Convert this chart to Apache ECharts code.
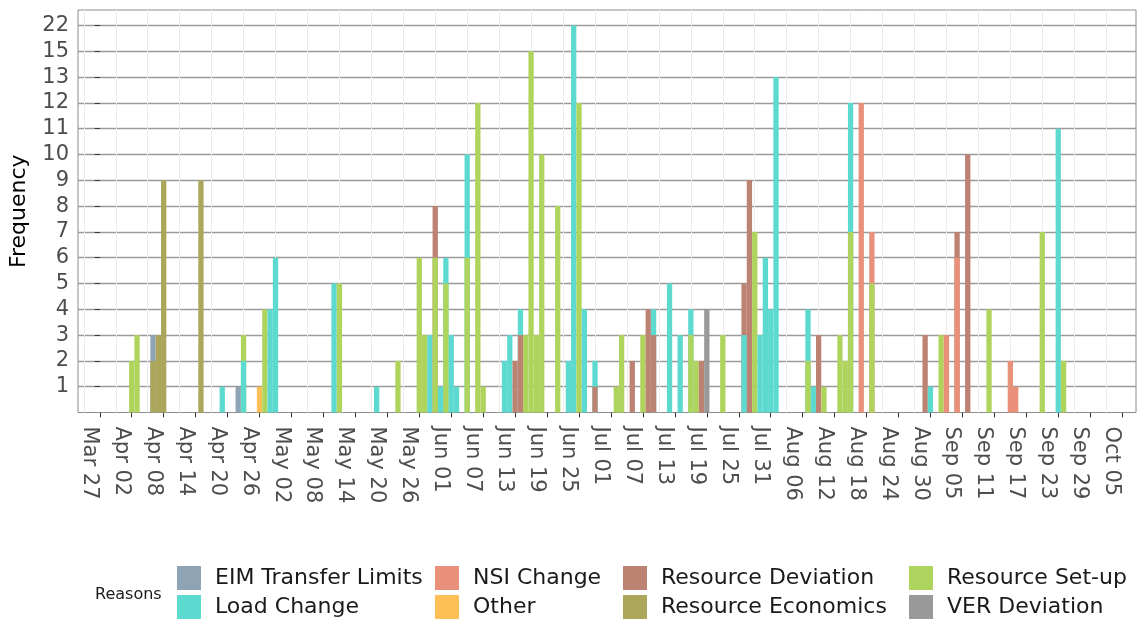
<!DOCTYPE html>
<html>
<head>
<meta charset="utf-8">
<script src="https://cdn.jsdelivr.net/npm/echarts@6/dist/echarts.min.js"></script>
<style>
  html, body { margin: 0; padding: 0; background: #ffffff; }
  #chart { width: 1141px; height: 620px; }
</style>
</head>
<body>
<div id="chart"></div>
<script>
// Calendar window shown on the date axis (month-day, one season)
const seasonYear = 2021;
const axisStart = '03-27';
const axisEnd = '10-05';
const dayStep = 6;

// Frequency levels on the discrete y scale
const yTickLabels = ['1', '2', '3', '4', '5', '6', '7', '8', '9', '10', '11', '12', '13', '15', '22'];

const reasons = ['EIM Transfer Limits', 'Load Change', 'NSI Change', 'Other',
  'Resource Deviation', 'Resource Economics', 'Resource Set-up', 'VER Deviation'];
const reasonColors = ['#8ea3b4', '#5ddad0', '#e8907a', '#fdbf56',
  '#bc8272', '#aba65a', '#afd45d', '#999999'];

// Daily counts per reason: [month-day, frequency]
const eimTransferLimits = [['04-06', 3], ['04-22', 1]];
const loadChange = [
  ['04-19', 1], ['04-23', 2], ['04-28', 4], ['04-29', 6], ['05-10', 5], ['05-18', 1],
  ['05-28', 3], ['05-30', 1], ['05-31', 6], ['06-01', 3], ['06-02', 1], ['06-04', 10],
  ['06-11', 2], ['06-12', 3], ['06-14', 4], ['06-23', 2], ['06-24', 22], ['06-26', 4],
  ['06-28', 2], ['07-09', 4], ['07-12', 5], ['07-14', 3], ['07-16', 4], ['07-26', 3],
  ['07-29', 3], ['07-30', 6], ['07-31', 4], ['08-01', 13], ['08-07', 4], ['08-08', 1],
  ['08-15', 12], ['08-30', 1], ['09-23', 11]
];
const nsiChange = [['08-17', 12], ['08-19', 7], ['09-02', 3], ['09-04', 6], ['09-14', 2], ['09-15', 1]];
const other = [['04-26', 1]];
const resourceDeviation = [
  ['05-29', 8], ['06-13', 2], ['06-14', 3], ['06-28', 1], ['07-05', 2], ['07-08', 4],
  ['07-09', 3], ['07-18', 2], ['07-26', 5], ['07-27', 9], ['08-09', 3], ['08-29', 3],
  ['09-04', 7], ['09-06', 10]
];
const resourceEconomics = [['04-06', 2], ['04-07', 3], ['04-08', 9], ['04-15', 9]];
const resourceSetup = [
  ['04-02', 2], ['04-03', 3], ['04-23', 3], ['04-27', 4], ['05-11', 5], ['05-22', 2],
  ['05-26', 6], ['05-27', 3], ['05-29', 6], ['05-31', 5], ['06-04', 6], ['06-06', 12],
  ['06-07', 1], ['06-15', 3], ['06-16', 15], ['06-17', 3], ['06-18', 10], ['06-21', 8],
  ['06-25', 12], ['07-02', 1], ['07-03', 3], ['07-07', 3], ['07-16', 3], ['07-17', 2],
  ['07-22', 3], ['07-28', 7], ['08-07', 2], ['08-10', 1], ['08-13', 3], ['08-14', 2],
  ['08-15', 7], ['08-19', 5], ['09-01', 3], ['09-10', 4], ['09-20', 7], ['09-24', 2]
];
const verDeviation = [['07-19', 4]];

const reasonData = [eimTransferLimits, loadChange, nsiChange, other,
  resourceDeviation, resourceEconomics, resourceSetup, verDeviation];

const MS_DAY = 86400000;
function toUTC(md) {
  const [m, d] = md.split('-').map(Number);
  return Date.UTC(seasonYear, m - 1, d);
}
const origin = toUTC(axisStart);
function dayIndex(md) { return Math.round((toUTC(md) - origin) / MS_DAY); }
const monthNames = ['Jan', 'Feb', 'Mar', 'Apr', 'May', 'Jun', 'Jul', 'Aug', 'Sep', 'Oct', 'Nov', 'Dec'];
function dayLabel(idx) {
  const dt = new Date(origin + idx * MS_DAY);
  const dd = dt.getUTCDate();
  return monthNames[dt.getUTCMonth()] + ' ' + (dd < 10 ? '0' + dd : dd);
}
// position of a frequency on the discrete scale
function levelOf(freq) { return yTickLabels.indexOf(String(freq)) + 1; }

const lastDay = dayIndex(axisEnd);
const majorDays = [];
for (let d = 0; d <= lastDay; d += dayStep) majorDays.push(d);
const minorDays = [];
for (let d = dayStep / 2 - dayStep; d <= lastDay + dayStep; d += dayStep) minorDays.push(d);
const yLevels = yTickLabels.map((_, i) => i + 1);

// Bars of one day overlap; the tallest sits behind, shorter ones in front.
const byDay = {};
reasonData.forEach((rows, r) => {
  rows.forEach(([md, f]) => {
    const d = dayIndex(md);
    (byDay[d] = byDay[d] || []).push({ r, f });
  });
});
const layers = [];
Object.keys(byDay).forEach(k => {
  const list = byDay[k].sort((a, b) => b.f - a.f);
  list.forEach((item, i) => {
    (layers[i] = layers[i] || []).push({
      value: [Number(k), levelOf(item.f)],
      itemStyle: { color: reasonColors[item.r] }
    });
  });
});

const barW = 5.3;
const series = layers.map((data, i) => ({
  name: 'layer' + i,
  type: 'bar',
  xAxisIndex: 0,
  barWidth: barW,
  barGap: '-100%',
  data: data
}));
reasons.forEach((name, r) => {
  series.push({
    name: name, type: 'bar', xAxisIndex: 0, barWidth: barW, barGap: '-100%',
    itemStyle: { color: reasonColors[r] }, data: []
  });
});

const font = 'DejaVu Sans, Liberation Sans, sans-serif';
const legendCols = [[0, 1, 177], [2, 3, 435], [4, 5, 623], [6, 7, 909]];
const legends = legendCols.map(([a, b, left]) => ({
  orient: 'vertical', left: left, top: 566, padding: 0,
  itemWidth: 24, itemHeight: 24, itemGap: 5, selectedMode: false,
  icon: 'rect',
  textStyle: { fontFamily: font, fontSize: 22, color: '#1a1a1a', padding: [0, 0, 0, 9] },
  data: [reasons[a], reasons[b]]
}));

const xMin = -4.09, xMax = 194.6;
const option = {
  animation: false,
  backgroundColor: '#ffffff',
  title: {
    text: 'Reasons', left: 90, top: 582,
    textStyle: { fontFamily: font, fontSize: 16, fontWeight: 'normal', color: '#1a1a1a' }
  },
  legend: legends,
  grid: {
    left: 76, right: 5, top: 10, bottom: 207.5,
    show: true, borderColor: '#8c8c8c', borderWidth: 1, backgroundColor: 'transparent'
  },
  xAxis: [
    {
      type: 'value', min: xMin, max: xMax,
      axisLine: { show: false },
      axisTick: { show: true, length: 5, lineStyle: { color: '#333333' }, customValues: majorDays },
      axisLabel: {
        customValues: majorDays, rotate: -90, margin: 14,
        verticalAlign: 'top',
        fontFamily: font, fontSize: 21, color: '#4d4d4d',
        formatter: v => dayLabel(v)
      },
      splitLine: { show: false }
    },
    {
      type: 'value', min: xMin, max: xMax, position: 'bottom',
      axisLine: { show: false },
      axisTick: { show: false, customValues: minorDays },
      axisLabel: { show: false, customValues: minorDays },
      splitLine: { show: true, lineStyle: { color: '#ececec', width: 1 } }
    }
  ],
  yAxis: {
    type: 'value', min: 0, max: 15.6,
    name: 'Frequency', nameLocation: 'middle', nameGap: 48, nameRotate: 90,
    nameTextStyle: { fontFamily: font, fontSize: 22, color: '#000000' },
    axisLine: { show: false },
    axisTick: { show: true, length: 5, lineStyle: { color: '#333333' }, customValues: yLevels },
    axisLabel: {
      customValues: yLevels, margin: 9,
      fontFamily: font, fontSize: 21, color: '#4d4d4d',
      formatter: v => yTickLabels[Math.round(v) - 1] || ''
    },
    splitLine: { show: true, lineStyle: { color: '#9a9a9a', width: 1.3 } }
  },
  series: series
};

const chart = echarts.init(document.getElementById('chart'), null, { renderer: 'canvas' });
chart.setOption(option);
</script>
</body>
</html>
